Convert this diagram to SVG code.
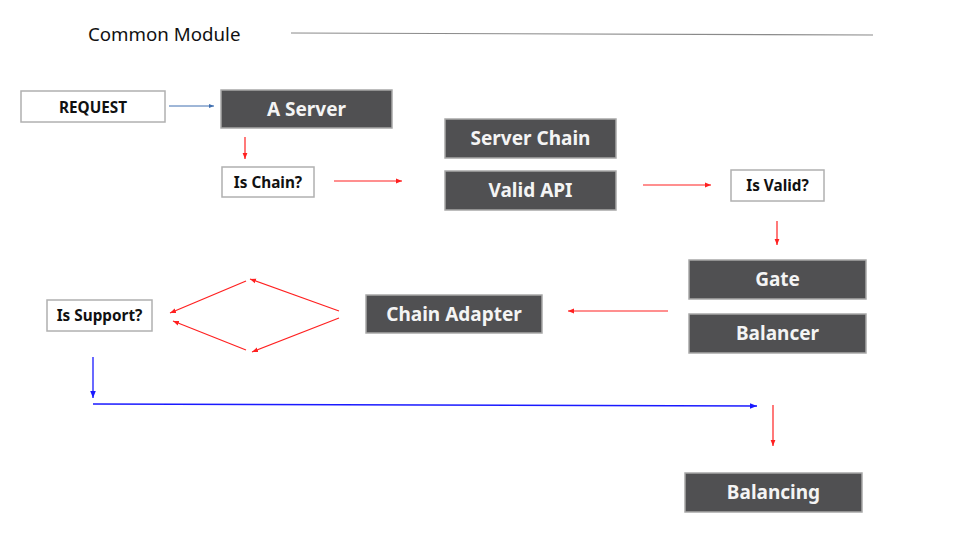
<svg xmlns="http://www.w3.org/2000/svg" width="963" height="537" viewBox="0 0 963 537">
<style>
.dark rect{fill:#505052;stroke:#a8a8a8;stroke-width:1.5}
.dark text{fill:#f4f4f4;font-family:"Noto Sans",sans-serif;font-weight:bold;font-size:19px;text-anchor:middle}
.light rect{fill:#fff;stroke:#b0b0b0;stroke-width:1.5}
.light text{fill:#111;font-family:"Noto Sans",sans-serif;font-weight:bold;font-size:15.3px;text-anchor:middle}
.red{stroke:#ff2020;stroke-width:1.2;fill:none;marker-end:url(#ar)}
.blue{stroke:#1a1aff;stroke-width:1.3;fill:none;marker-end:url(#ab)}
</style>
<defs>
<marker id="ar" viewBox="0 0 10 10" refX="10" refY="5" markerWidth="6" markerHeight="6" markerUnits="userSpaceOnUse" orient="auto"><path d="M0,1L10,5L0,9z" fill="#ff2020"/></marker>
<marker id="ab" viewBox="0 0 10 10" refX="10" refY="5" markerWidth="7" markerHeight="7" markerUnits="userSpaceOnUse" orient="auto"><path d="M0,1L10,5L0,9z" fill="#1a1aff"/></marker>
<marker id="as" viewBox="0 0 10 10" refX="10" refY="5" markerWidth="5" markerHeight="5" markerUnits="userSpaceOnUse" orient="auto"><path d="M0,1L10,5L0,9z" fill="#3f6fb0"/></marker>
</defs>
<rect width="963" height="537" fill="#fff"/>
<g id="title">
<text x="88" y="41" font-family="Noto Sans,sans-serif" font-size="18.7" fill="#111">Common Module</text>
<line x1="291" y1="33" x2="873" y2="35" stroke="#8a8a8a" stroke-width="1.2"/>
</g>
<g id="request" class="light"><rect x="21" y="91" width="144" height="31"/><text x="93" y="113">REQUEST</text></g>
<g id="aserver" class="dark"><rect x="221" y="90" width="171" height="38"/><text x="306.5" y="116">A Server</text></g>
<g id="ischain" class="light"><rect x="222" y="167" width="92" height="30"/><text x="268" y="188">Is Chain?</text></g>
<g id="serverchain" class="dark"><rect x="445" y="119" width="171" height="39"/><text x="530.5" y="145">Server Chain</text></g>
<g id="validapi" class="dark"><rect x="445" y="171" width="171" height="39"/><text x="530.5" y="197">Valid API</text></g>
<g id="isvalid" class="light"><rect x="731" y="170" width="93" height="31"/><text x="777.5" y="191">Is Valid?</text></g>
<g id="gate" class="dark"><rect x="689" y="260" width="177" height="39"/><text x="777.5" y="286">Gate</text></g>
<g id="balancer" class="dark"><rect x="689" y="314" width="177" height="39"/><text x="777.5" y="340">Balancer</text></g>
<g id="chainadapter" class="dark"><rect x="366" y="295" width="176" height="38"/><text x="454" y="321">Chain Adapter</text></g>
<g id="issupport" class="light"><rect x="47" y="300" width="105" height="31"/><text x="99.5" y="321">Is Support?</text></g>
<g id="balancing" class="dark"><rect x="685" y="473" width="177" height="39"/><text x="773.5" y="499">Balancing</text></g>
<g id="connectors">
<line x1="169" y1="106" x2="214" y2="106" stroke="#3f6fb0" stroke-width="1" marker-end="url(#as)"/>
<line class="red" x1="245" y1="137" x2="245" y2="159"/>
<line class="red" x1="334" y1="181" x2="402" y2="181"/>
<line class="red" x1="643" y1="185" x2="711" y2="185"/>
<line class="red" x1="777" y1="221" x2="777" y2="245"/>
<line class="red" x1="668" y1="311" x2="568" y2="311"/>
<line class="red" x1="246" y1="281" x2="170" y2="313"/>
<line class="red" x1="339" y1="311" x2="250" y2="279"/>
<line class="red" x1="339" y1="318" x2="252" y2="352"/>
<line class="red" x1="246" y1="350" x2="173" y2="321"/>
<line class="blue" x1="93" y1="357" x2="93" y2="398"/>
<line class="blue" x1="93" y1="404" x2="757" y2="406"/>
<line class="red" x1="773" y1="405" x2="773" y2="446"/>
</g>
</svg>
